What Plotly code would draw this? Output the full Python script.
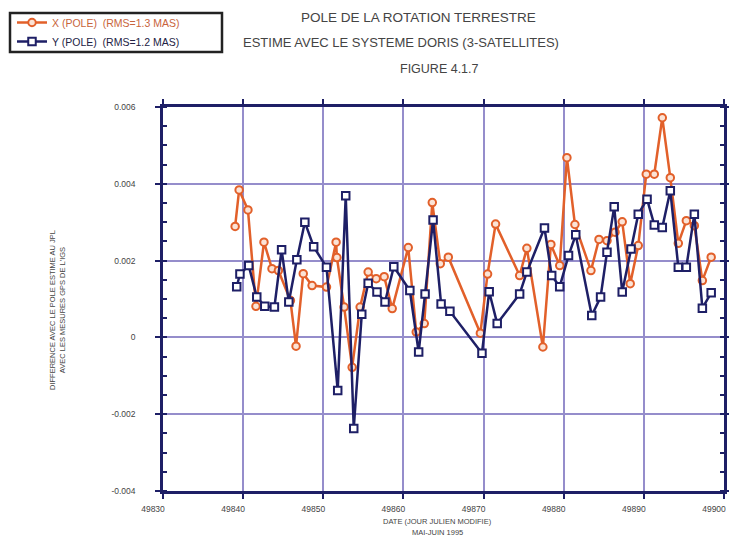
import plotly.graph_objects as go

# ---- data ----
x_days = [49839.0, 49839.5, 49840.6, 49841.6, 49842.6, 49843.6, 49844.4, 49845.9, 49846.6,
          49847.5, 49848.6, 49850.4, 49851.6, 49851.7, 49852.6, 49853.6, 49854.6, 49855.6,
          49856.6, 49857.6, 49858.6, 49860.6, 49861.6, 49862.6, 49863.6, 49864.6, 49865.6,
          49869.6, 49870.5, 49871.5, 49874.5, 49875.4, 49877.4, 49878.4, 49879.5, 49880.4,
          49881.4, 49883.4, 49884.4, 49885.4, 49886.4, 49887.3, 49888.3, 49889.3, 49890.3,
          49891.3, 49892.3, 49893.3, 49894.3, 49895.3, 49896.3, 49897.3, 49898.4]
x_vals = [0.00289, 0.00384, 0.00332, 0.00081, 0.00248, 0.00179, 0.00174, 0.00096, -0.00023,
          0.00166, 0.00135, 0.00131, 0.00248, 0.00208, 0.00079, -0.00078, 0.00079, 0.00170,
          0.00153, 0.00158, 0.00075, 0.00234, 0.00014, 0.00036, 0.00351, 0.00192, 0.00209,
          0.00011, 0.00165, 0.00295, 0.00161, 0.00232, -0.00025, 0.00242, 0.00187, 0.00468,
          0.00294, 0.00174, 0.00255, 0.00252, 0.00274, 0.00301, 0.00140, 0.00239, 0.00425,
          0.00425, 0.00572, 0.00416, 0.00245, 0.00304, 0.00291, 0.00148, 0.00209]

y_days = [49839.2, 49839.6, 49840.7, 49841.7, 49842.7, 49843.9, 49844.8, 49845.7, 49846.7,
          49847.7, 49848.8, 49850.4, 49851.8, 49852.8, 49853.8, 49854.8, 49855.6, 49856.7,
          49857.7, 49858.8, 49860.8, 49861.9, 49862.7, 49863.7, 49864.7, 49865.8, 49869.8,
          49870.7, 49871.7, 49874.5, 49875.4, 49877.6, 49878.5, 49879.5, 49880.6, 49881.5,
          49883.5, 49884.6, 49885.4, 49886.3, 49887.3, 49888.4, 49889.3, 49890.4, 49891.3,
          49892.3, 49893.3, 49894.3, 49895.3, 49896.3, 49897.3, 49898.4]
y_vals = [0.00132, 0.00165, 0.00187, 0.00105, 0.00081, 0.00079, 0.00228, 0.00092, 0.00202,
          0.00300, 0.00236, 0.00183, -0.00138, 0.00369, -0.00237, 0.00060, 0.00141, 0.00118,
          0.00092, 0.00184, 0.00122, -0.00038, 0.00113, 0.00306, 0.00087, 0.00068, -0.00041,
          0.00119, 0.00036, 0.00113, 0.00170, 0.00285, 0.00161, 0.00132, 0.00213, 0.00267,
          0.00057, 0.00105, 0.00222, 0.00340, 0.00118, 0.00230, 0.00321, 0.00360, 0.00293,
          0.00286, 0.00382, 0.00183, 0.00183, 0.00321, 0.00076, 0.00116]

x_ticks = [49830, 49840, 49850, 49860, 49870, 49880, 49890, 49900]
y_ticks = [-0.004, -0.002, 0, 0.002, 0.004, 0.006]
y_tick_text = ["-0.004", "-0.002", "0", "0.002", "0.004", "0.006"]

ORANGE = "#E2602A"
NAVY = "#1E1F66"
GRID = "#958DCB"
TXT = "#444444"
FONT = "Liberation Sans"

L, T, W, H = 163, 107, 561, 384  # plot area in pixels


def px(xp):
    return (xp - L) / W


def py(yp):
    return (T + H - yp) / H


fig = go.Figure()
fig.add_trace(go.Scatter(
    x=x_days, y=x_vals, mode="lines+markers",
    name="<span style='color:#C8643C'>X (POLE)  (RMS=1.3 MAS)</span>",
    line=dict(color=ORANGE, width=2.5),
    marker=dict(symbol="circle", size=7.5, color="#FBE3D6", line=dict(color=ORANGE, width=2)),
))
fig.add_trace(go.Scatter(
    x=y_days, y=y_vals, mode="lines+markers",
    name="<span style='color:#222244'>Y (POLE)  (RMS=1.2 MAS)</span>",
    line=dict(color=NAVY, width=2.5),
    marker=dict(symbol="square", size=7.5, color="white", line=dict(color=NAVY, width=2)),
))

fig.update_layout(
    width=729, height=545,
    margin=dict(l=L, r=729 - L - W, t=T, b=545 - T - H, autoexpand=False),
    paper_bgcolor="white", plot_bgcolor="white",
    font=dict(family=FONT, color=TXT, size=8),
    showlegend=True,
    legend=dict(
        x=px(12), y=py(8), xanchor="left", yanchor="top",
        borderwidth=0, bgcolor="rgba(0,0,0,0)",
        font=dict(family=FONT, size=10.5), tracegroupgap=0,
        itemwidth=30,
    ),
    xaxis=dict(
        range=[49830, 49900], tickvals=x_ticks, ticktext=[str(t) for t in x_ticks],
        showgrid=True, gridcolor=GRID, gridwidth=1.5,
        showline=True, linecolor=NAVY, linewidth=2.5, mirror="ticks",
        ticks="outside", ticklen=5, tickwidth=2, tickcolor=NAVY,
        tickfont=dict(size=8.5, color=TXT), ticklabelstandoff=3, ticklabelshift=-10,
        zeroline=False,
    ),
    yaxis=dict(
        range=[-0.004, 0.006], tickvals=y_ticks, ticktext=y_tick_text,
        showgrid=True, gridcolor=GRID, gridwidth=1.5,
        showline=True, linecolor=NAVY, linewidth=2.5, mirror="ticks",
        ticks="outside", ticklen=5, tickwidth=2, tickcolor=NAVY,
        tickfont=dict(size=8.5, color=TXT), ticklabelstandoff=18,
        zeroline=False,
        minor=dict(dtick=0.0005, ticks="inside", ticklen=4, tickwidth=1.5,
                   tickcolor=NAVY, showgrid=False),
    ),
)

# legend frame
fig.add_shape(type="rect", xref="paper", yref="paper",
              x0=px(10), x1=px(222), y0=py(52), y1=py(13),
              line=dict(color="#222222", width=2.5), fillcolor="rgba(0,0,0,0)", layer="above")

ann = [
    dict(text="POLE DE LA ROTATION TERRESTRE", x=418, y=17, size=13.5),
    dict(text="ESTIME AVEC LE SYSTEME DORIS (3-SATELLITES)", x=401, y=42, size=13),
    dict(text="FIGURE 4.1.7", x=439, y=69, size=12.5),
    dict(text="DATE (JOUR JULIEN MODIFIE)", x=437, y=521, size=7.5),
    dict(text="MAI-JUIN 1995", x=437, y=532, size=7.5),
]
for a in ann:
    fig.add_annotation(text=a["text"], xref="paper", yref="paper",
                       x=px(a["x"]), y=py(a["y"]),
                       xanchor="center", yanchor="middle", showarrow=False,
                       font=dict(family=FONT, size=a["size"], color=TXT))
fig.add_annotation(text="DIFFERENCE AVEC LE POLE ESTIME AU JPL<br>AVEC LES MESURES GPS DE L'IGS",
                   xref="paper", yref="paper", x=px(57), y=py(310),
                   xanchor="center", yanchor="middle", showarrow=False, textangle=-90,
                   font=dict(family=FONT, size=7.5, color=TXT))

fig.write_html("out.html", config={"displayModeBar": False},
               post_script="document.body.style.margin='0px';")
